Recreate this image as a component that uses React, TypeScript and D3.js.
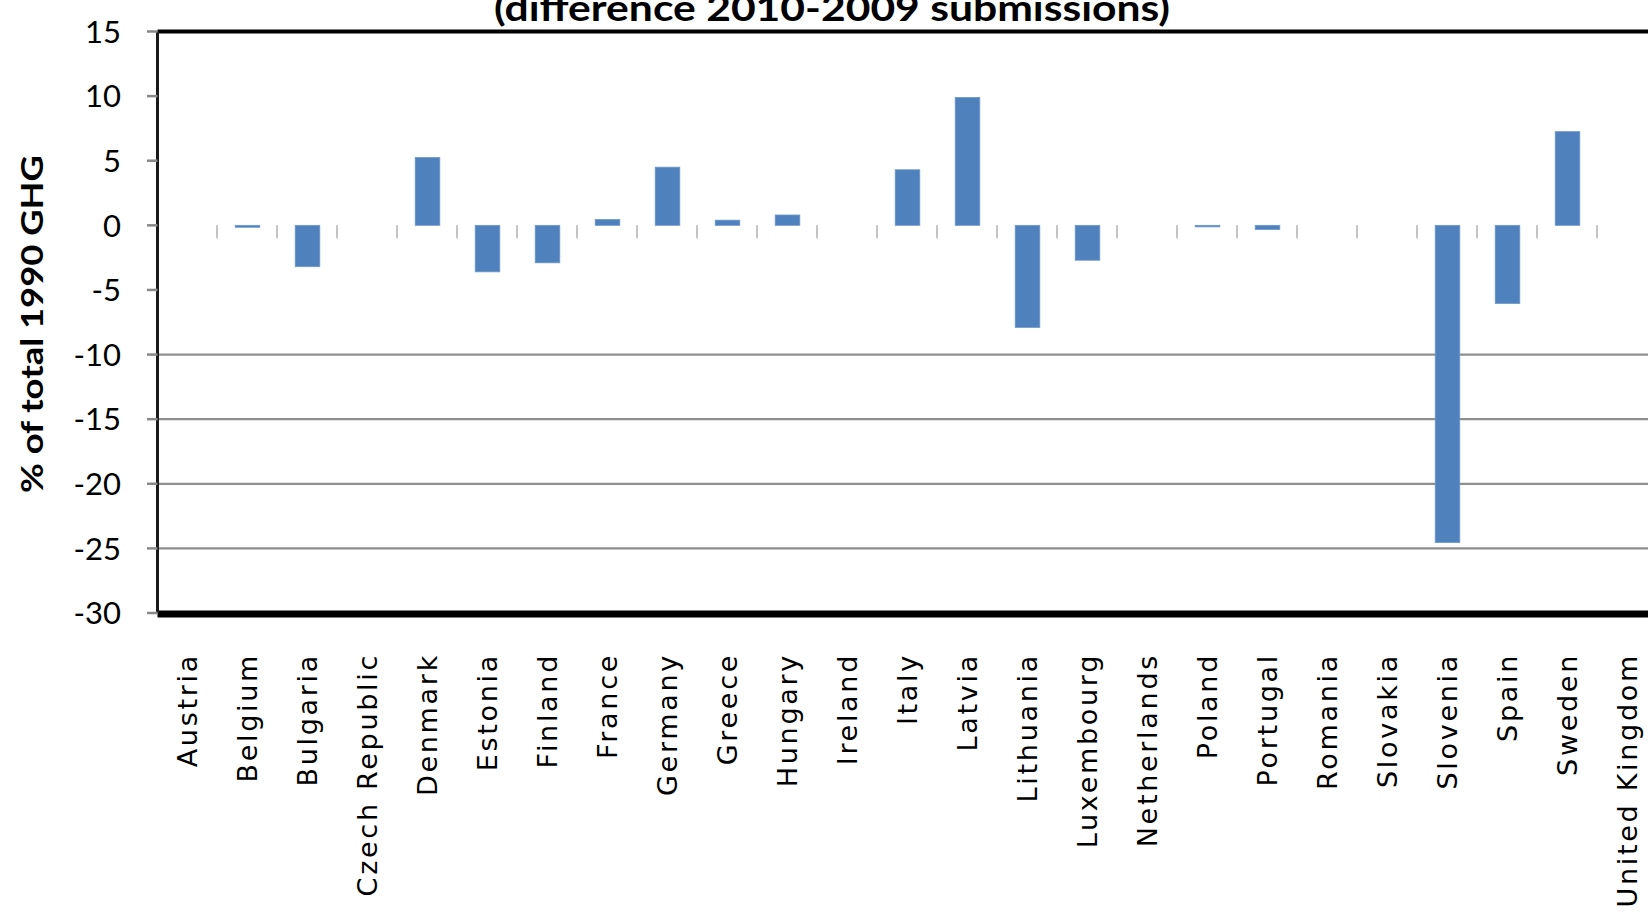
import React from 'react';
import * as d3 from 'd3';

const countries = [
  'Austria', 'Belgium', 'Bulgaria', 'Czech Republic', 'Denmark', 'Estonia', 'Finland',
  'France', 'Germany', 'Greece', 'Hungary', 'Ireland', 'Italy', 'Latvia', 'Lithuania',
  'Luxembourg', 'Netherlands', 'Poland', 'Portugal', 'Romania', 'Slovakia', 'Slovenia',
  'Spain', 'Sweden', 'United Kingdom',
];
const diffs = [
  0, -0.15, -3.2, 0, 5.25, -3.6, -2.9,
  0.45, 4.5, 0.4, 0.8, 0, 4.3, 9.9, -7.9,
  -2.7, 0, -0.12, -0.32, 0, 0, -24.55,
  -6.05, 7.25, 0,
];
const yTicks = [15, 10, 5, 0, -5, -10, -15, -20, -25, -30];
const gridValues = [-10, -15, -20, -25];
const title = '(difference 2010-2009 submissions)';
const yTitle = '% of total 1990 GHG';

const W = 1648;
const H = 920;
const left = 157.5;
const top = 31.5;
const bottom = 613;

export default function App() {
  // scales
  const x = d3.scaleBand<string>()
    .domain(countries)
    .range([left, left + 60 * countries.length]);
  const y = d3.scaleLinear().domain([-30, 15]).range([bottom, top]);
  const bw = x.bandwidth();
  const barW = bw * 0.41;
  const y0 = y(0);

  return (
    <svg width={W} height={H} style={{ position: 'absolute', left: 0, top: 0, background: '#fff' }}>
      {/* gridlines */}
      {gridValues.map(v => (
        <line key={v} x1={left} x2={W} y1={y(v)} y2={y(v)} stroke="#8f8f8f" strokeWidth={2.2} />
      ))}

      {/* category ticks at zero */}
      {countries.slice(1).map(c => (
        <line key={c} x1={x(c)! - 0.5} x2={x(c)! - 0.5} y1={y0} y2={y0 + 13} stroke="#c4c4c4" strokeWidth={2} />
      ))}

      {/* bars */}
      {countries.map((c, i) => {
        const v = diffs[i];
        if (v === 0) return null;
        return (
          <rect
            key={c}
            x={x(c)! + (bw - barW) / 2}
            y={Math.min(y(v), y0)}
            width={barW}
            height={Math.max(Math.abs(y(v) - y0), 1.5)}
            fill="#4f81bd"
            stroke="#6d97cc"
            strokeWidth={0.8}
          />
        );
      })}

      {/* plot border */}
      <line x1={left} x2={W} y1={top} y2={top} stroke="#000" strokeWidth={4} />
      <line x1={left} x2={W} y1={bottom + 1} y2={bottom + 1} stroke="#000" strokeWidth={7} />
      <line x1={left} x2={left} y1={top} y2={bottom} stroke="#1a1a1a" strokeWidth={3} />

      {/* y ticks */}
      {yTicks.map(t => (
        <g key={t} transform={`translate(0,${y(t)})`}>
          <line x1={147} x2={left} stroke="#888" strokeWidth={2.5} />
          <text
            x={121}
            dy="0.36em"
            textAnchor="end"
            fontFamily="Lato, 'DejaVu Sans Condensed', sans-serif"
            fontSize={31}
            fill="#000"
          >
            {t}
          </text>
        </g>
      ))}

      {/* category labels */}
      {countries.map(c => (
        <text
          key={c}
          transform={`translate(${x(c)! + bw / 2},653) rotate(-90)`}
          dy="0.36em"
          textAnchor="end"
          fontFamily="'DejaVu Sans', sans-serif"
          fontSize={27}
          letterSpacing={2.7}
          fill="#000"
        >
          {c}
        </text>
      ))}

      {/* y-axis title */}
      <text
        transform={`translate(32,${(155 + 493) / 2}) rotate(-90)`}
        dy="0.36em"
        textAnchor="middle"
        fontFamily="Lato, 'DejaVu Sans', sans-serif"
        fontWeight="bold"
        fontSize={30}
        textLength={338}
        lengthAdjust="spacingAndGlyphs"
        fill="#000"
      >
        {yTitle}
      </text>

      {/* title (clipped at top) */}
      <text
        x={832}
        y={21}
        textAnchor="middle"
        fontFamily="Lato, 'DejaVu Sans', sans-serif"
        fontWeight="bold"
        fontSize={36}
        textLength={676}
        lengthAdjust="spacingAndGlyphs"
        fill="#000"
      >
        {title}
      </text>
    </svg>
  );
}
